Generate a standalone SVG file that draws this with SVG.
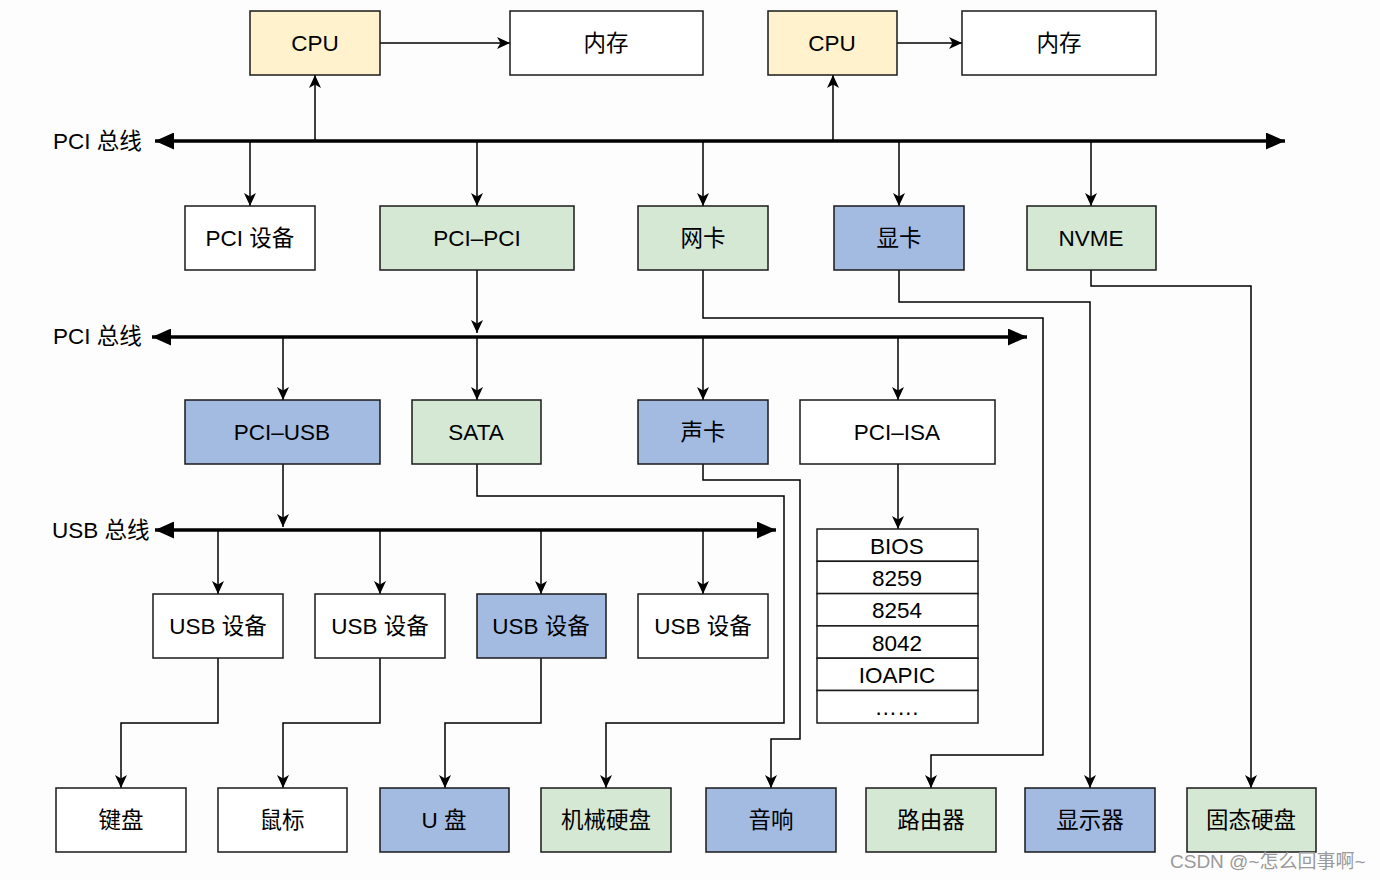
<svg xmlns="http://www.w3.org/2000/svg" width="1380" height="880" viewBox="0 0 1380 880">
<defs>
<marker id="a" viewBox="0 0 13 12" refX="13" refY="6" markerWidth="13" markerHeight="12" markerUnits="userSpaceOnUse" orient="auto"><path d="M0,0 L13,6 L0,12 L3.5,6 z" fill="#000"/></marker>
<marker id="b" viewBox="0 0 19 17" refX="19" refY="8.5" markerWidth="19" markerHeight="17" markerUnits="userSpaceOnUse" orient="auto-start-reverse"><path d="M0,0 L19,8.5 L0,17 z" fill="#000"/></marker>
<style>
rect{stroke:#1a1a1a;stroke-width:1.5}
.w{fill:#ffffff}.y{fill:#fff2cc}.g{fill:#d5e8d4}.bl{fill:#a3bbe0}
text{font-family:"Liberation Sans","Noto Sans CJK SC",sans-serif;font-size:22.5px;fill:#000;text-anchor:middle;dominant-baseline:central}
.lbl{text-anchor:start}
.c{fill:none;stroke:#000;stroke-width:1.5}
.bus{fill:none;stroke:#000;stroke-width:3.5}
.wm{font-size:19px;fill:#9a9a9a;text-anchor:start}
</style>
</defs>
<rect x="0" y="0" width="1380" height="880" fill="#fdfdfd" style="stroke:none"/>

<g id="connectors">
<path class="c" d="M380,43 H510" marker-end="url(#a)"/>
<path class="c" d="M897,43 H962" marker-end="url(#a)"/>
<path class="bus" d="M155,141 H1285" marker-start="url(#b)" marker-end="url(#b)"/>
<path class="c" d="M315,141 V75" marker-end="url(#a)"/>
<path class="c" d="M833,141 V75" marker-end="url(#a)"/>
<path class="c" d="M250,141 V206" marker-end="url(#a)"/>
<path class="c" d="M477,141 V206" marker-end="url(#a)"/>
<path class="c" d="M703,141 V206" marker-end="url(#a)"/>
<path class="c" d="M899,141 V206" marker-end="url(#a)"/>
<path class="c" d="M1091,141 V206" marker-end="url(#a)"/>
<path class="bus" d="M152,337 H1027" marker-start="url(#b)" marker-end="url(#b)"/>
<path class="c" d="M477,270 V333" marker-end="url(#a)"/>
<path class="c" d="M283,337 V400" marker-end="url(#a)"/>
<path class="c" d="M477,337 V400" marker-end="url(#a)"/>
<path class="c" d="M703,337 V400" marker-end="url(#a)"/>
<path class="c" d="M898,337 V400" marker-end="url(#a)"/>
<path class="bus" d="M155,530 H776" marker-start="url(#b)" marker-end="url(#b)"/>
<path class="c" d="M283,464 V527" marker-end="url(#a)"/>
<path class="c" d="M218,530 V594" marker-end="url(#a)"/>
<path class="c" d="M380,530 V594" marker-end="url(#a)"/>
<path class="c" d="M541,530 V594" marker-end="url(#a)"/>
<path class="c" d="M703,530 V594" marker-end="url(#a)"/>
<path class="c" d="M898,464 V529" marker-end="url(#a)"/>
<path class="c" d="M218,658 V723 H121 V788" marker-end="url(#a)"/>
<path class="c" d="M380,658 V723 H283 V788" marker-end="url(#a)"/>
<path class="c" d="M541,658 V723 H445 V788" marker-end="url(#a)"/>
<path class="c" d="M477,464 V496 H784 V723 H606 V788" marker-end="url(#a)"/>
<path class="c" d="M703,464 V480 H800 V739 H771 V788" marker-end="url(#a)"/>
<path class="c" d="M703,270 V318 H1043 V755 H931 V788" marker-end="url(#a)"/>
<path class="c" d="M899,270 V302 H1090 V788" marker-end="url(#a)"/>
<path class="c" d="M1091,270 V286 H1251 V788" marker-end="url(#a)"/>
</g>

<g id="bus-labels">
<text class="lbl" x="53" y="141">PCI 总线</text>
<text class="lbl" x="53" y="336">PCI 总线</text>
<text class="lbl" x="52" y="530">USB 总线</text>
</g>

<g id="cpu1"><rect class="y" x="250" y="11" width="130" height="64"/><text x="315" y="43">CPU</text></g>
<g id="mem1"><rect class="w" x="510" y="11" width="193" height="64"/><text x="606" y="43">内存</text></g>
<g id="cpu2"><rect class="y" x="768" y="11" width="129" height="64"/><text x="832" y="43">CPU</text></g>
<g id="mem2"><rect class="w" x="962" y="11" width="194" height="64"/><text x="1059" y="43">内存</text></g>

<g id="pci-dev"><rect class="w" x="185" y="206" width="130" height="64"/><text x="250" y="238">PCI 设备</text></g>
<g id="pci-pci"><rect class="g" x="380" y="206" width="194" height="64"/><text x="477" y="238">PCI–PCI</text></g>
<g id="nic"><rect class="g" x="638" y="206" width="130" height="64"/><text x="703" y="238">网卡</text></g>
<g id="gpu"><rect class="bl" x="834" y="206" width="130" height="64"/><text x="899" y="238">显卡</text></g>
<g id="nvme"><rect class="g" x="1027" y="206" width="129" height="64"/><text x="1091" y="238">NVME</text></g>

<g id="pci-usb"><rect class="bl" x="185" y="400" width="195" height="64"/><text x="282" y="432">PCI–USB</text></g>
<g id="sata"><rect class="g" x="412" y="400" width="129" height="64"/><text x="476" y="432">SATA</text></g>
<g id="sound"><rect class="bl" x="638" y="400" width="130" height="64"/><text x="703" y="432">声卡</text></g>
<g id="pci-isa"><rect class="w" x="800" y="400" width="195" height="64"/><text x="897" y="432">PCI–ISA</text></g>

<g id="usb1"><rect class="w" x="153" y="594" width="130" height="64"/><text x="218" y="626">USB 设备</text></g>
<g id="usb2"><rect class="w" x="315" y="594" width="130" height="64"/><text x="380" y="626">USB 设备</text></g>
<g id="usb3"><rect class="bl" x="477" y="594" width="129" height="64"/><text x="541" y="626">USB 设备</text></g>
<g id="usb4"><rect class="w" x="638" y="594" width="130" height="64"/><text x="703" y="626">USB 设备</text></g>

<g id="isa-list">
<rect class="w" x="817" y="529" width="161" height="32.3"/><text x="897" y="546">BIOS</text>
<rect class="w" x="817" y="561.3" width="161" height="32.3"/><text x="897" y="578">8259</text>
<rect class="w" x="817" y="593.6" width="161" height="32.3"/><text x="897" y="610">8254</text>
<rect class="w" x="817" y="625.9" width="161" height="32.3"/><text x="897" y="643">8042</text>
<rect class="w" x="817" y="658.2" width="161" height="32.3"/><text x="897" y="675">IOAPIC</text>
<rect class="w" x="817" y="690.5" width="161" height="32.5"/><text x="897" y="707">……</text>
</g>

<g id="keyboard"><rect class="w" x="56" y="788" width="130" height="64"/><text x="121" y="820">键盘</text></g>
<g id="mouse"><rect class="w" x="218" y="788" width="129" height="64"/><text x="282" y="820">鼠标</text></g>
<g id="udisk"><rect class="bl" x="380" y="788" width="129" height="64"/><text x="444" y="820">U 盘</text></g>
<g id="hdd"><rect class="g" x="541" y="788" width="130" height="64"/><text x="606" y="820">机械硬盘</text></g>
<g id="speaker"><rect class="bl" x="706" y="788" width="130" height="64"/><text x="771" y="820">音响</text></g>
<g id="router"><rect class="g" x="866" y="788" width="130" height="64"/><text x="931" y="820">路由器</text></g>
<g id="monitor"><rect class="bl" x="1025" y="788" width="130" height="64"/><text x="1090" y="820">显示器</text></g>
<g id="ssd"><rect class="g" x="1187" y="788" width="129" height="64"/><text x="1251" y="820">固态硬盘</text></g>

<text class="wm" x="1170" y="861">CSDN @~怎么回事啊~</text>
</svg>
